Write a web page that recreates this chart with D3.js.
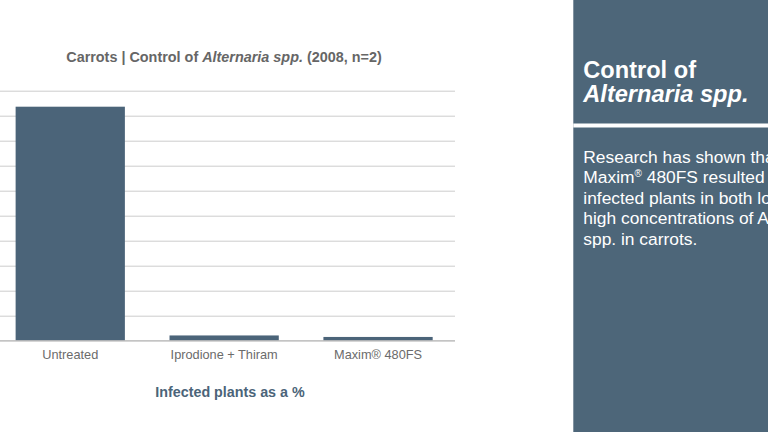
<!DOCTYPE html>
<html>
<head>
<meta charset="utf-8">
<script src="https://cdn.jsdelivr.net/npm/d3@7"></script>
<style>
  html, body { margin: 0; padding: 0; background: #fff; overflow: hidden; }
  svg { display: block; font-family: "Liberation Sans", Arial, Helvetica, sans-serif; }
</style>
</head>
<body>
<svg id="chart" width="768" height="432"></svg>
<script>
// ---- data ----
const categories = ["Untreated", "Iprodione + Thiram", "Maxim® 480FS"];
const infectedPct = [93.6, 2.1, 1.5];
const yTicks = [0, 10, 20, 30, 40, 50, 60, 70, 80, 90, 100];
const panelHeading = ["Control of", "Alternaria spp."];
const panelBody = [
  ["Research has shown that"],
  ["Maxim", "\u00AE", " 480FS resulted in"],
  ["infected plants in both low and"],
  ["high concentrations of Alternaria"],
  ["spp. in carrots."]
];

const svg = d3.select("#chart");
const barColor = "#4b6479";
const panelColor = "#4d6679";

// ---- chart ----
const x = d3.scaleBand().domain(categories).range([-6.7, 455]).paddingInner(0.29).paddingOuter(0.145);
const y = d3.scaleLinear().domain([0, 100]).range([340.7, 90.7]);

// gridlines
const grid = svg.append("g")
  .call(d3.axisLeft(y).tickValues(yTicks).tickSize(-455).tickFormat(""));
grid.select(".domain").remove();
grid.selectAll(".tick line").attr("stroke", "#cccccc").attr("stroke-width", 1);

// bars
svg.append("g").selectAll("rect")
  .data(categories)
  .join("rect")
  .attr("x", d => x(d))
  .attr("width", x.bandwidth())
  .attr("y", (d, i) => y(infectedPct[i]))
  .attr("height", (d, i) => y(0) - y(infectedPct[i]))
  .attr("fill", barColor);

// x axis
const xAxis = svg.append("g")
  .attr("transform", `translate(0,${y(0)})`)
  .call(d3.axisBottom(x).tickSize(0).tickPadding(9.5));
xAxis.select(".domain").attr("d", "M0,0H455").attr("stroke", "#bbbbbb");
xAxis.selectAll("text")
  .attr("fill", "#6b6b6b")
  .style("font-size", "12.75px")
  .style("font-family", "'Liberation Sans', Arial, sans-serif");

// title
const title = svg.append("text")
  .attr("x", 224).attr("y", 61.5)
  .attr("text-anchor", "middle")
  .attr("fill", "#666666")
  .style("font-size", "14.4px")
  .style("font-weight", "bold");
title.append("tspan").text("Carrots | Control of ");
title.append("tspan").style("font-style", "italic").text("Alternaria spp.");
title.append("tspan").text(" (2008, n=2)");

// axis title
svg.append("text")
  .attr("x", 230).attr("y", 396.5)
  .attr("text-anchor", "middle")
  .attr("fill", "#4b6479")
  .style("font-size", "14.3px")
  .style("font-weight", "bold")
  .text("Infected plants as a %");

// ---- side panel ----
svg.append("rect")
  .attr("x", 573.3).attr("y", 0).attr("width", 200).attr("height", 432)
  .attr("fill", panelColor);
svg.append("rect")
  .attr("x", 573.3).attr("y", 123.5).attr("width", 200).attr("height", 4)
  .attr("fill", "#ffffff");

svg.append("g").selectAll("text")
  .data(panelHeading)
  .join("text")
  .attr("x", 583.3)
  .attr("y", (d, i) => 77.5 + i * 24)
  .attr("fill", "#ffffff")
  .style("font-size", "23.6px")
  .style("font-weight", "bold")
  .style("font-style", (d, i) => i === 1 ? "italic" : "normal")
  .text(d => d);

const body = svg.append("g").selectAll("text")
  .data(panelBody)
  .join("text")
  .attr("x", 583.3)
  .attr("y", (d, i) => 162.5 + i * 20.5)
  .attr("fill", "#ffffff")
  .style("font-size", "17.4px");
body.each(function(parts) {
  const t = d3.select(this);
  let pending = 0;
  parts.forEach(p => {
    if (p === "\u00AE") {
      t.append("tspan").attr("dy", -6).style("font-size", "10px").text(p);
      pending = 6;
    } else {
      const s = t.append("tspan").text(p);
      if (pending) { s.attr("dy", pending); pending = 0; }
    }
  });
});
</script>
</body>
</html>
